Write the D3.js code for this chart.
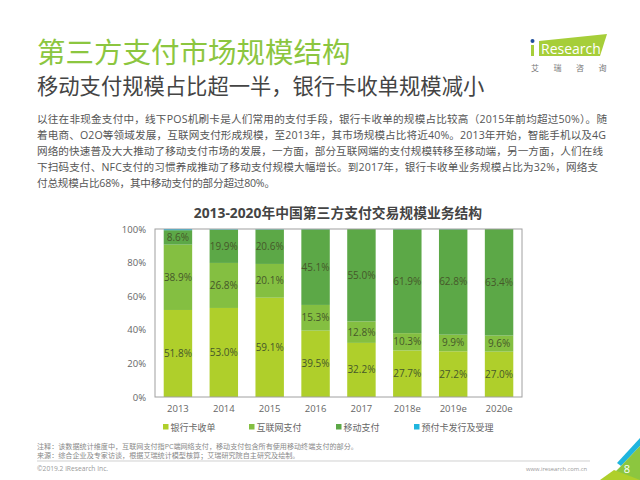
<!DOCTYPE html>
<html>
<head>
<meta charset="utf-8">
<script src="https://cdn.jsdelivr.net/npm/d3@7"></script>
<style>
html, body { margin: 0; padding: 0; background: #fff; }
svg { display: block; }
text { font-family: "Open Sans", "Noto Sans CJK SC", sans-serif; }
</style>
</head>
<body>
<svg id="chart" width="640" height="480"></svg>
<script>
const years = ["2013", "2014", "2015", "2016", "2017", "2018e", "2019e", "2020e"];
const seriesNames = ["银行卡收单", "互联网支付", "移动支付", "预付卡发行及受理"];
const bankCard = [51.8, 53.0, 59.1, 39.5, 32.2, 27.7, 27.2, 27.0];
const internetPay = [38.9, 26.8, 20.1, 15.3, 12.8, 10.3, 9.9, 9.6];
const mobilePay = [8.6, 19.9, 20.6, 45.1, 55.0, 61.9, 62.8, 63.4];
const prepaid = [0.7, 0.3, 0.2, 0.1, 0, 0.1, 0.1, 0];
const yTicks = [0, 20, 40, 60, 80, 100];
const colors = ["#afcf2b", "#84bf41", "#5ca847", "#1fb5de"];

const title = "第三方支付市场规模结构";
const subtitle = "移动支付规模占比超一半，银行卡收单规模减小";
const bodyLines = [
    "以往在非现金支付中，线下POS机刷卡是人们常用的支付手段，银行卡收单的规模占比较高（2015年前均超过50%）。随",
    "着电商、O2O等领域发展，互联网支付形成规模，至2013年，其市场规模占比将近40%。2013年开始，智能手机以及4G",
    "网络的快速普及大大推动了移动支付市场的发展，一方面，部分互联网端的支付规模转移至移动端，另一方面，人们在线",
    "下扫码支付、NFC支付的习惯养成推动了移动支付规模大幅增长。到2017年，银行卡收单业务规模占比为32%，网络支",
    "付总规模占比68%，其中移动支付的部分超过80%。"
];
const bodyWidths = [570, 569, 566, 561, 238];
const chartTitle = "2013-2020年中国第三方支付交易规模业务结构";
const notes = [
    "注释：该数据统计维度中，互联网支付指PC端网络支付，移动支付包含所有使用移动终端支付的部分。",
    "来源：综合企业及专家访谈，根据艾瑞统计模型核算；艾瑞研究院自主研究及绘制。"
];

const svg = d3.select("#chart");

// header
svg.append("text").attr("x", 37).attr("y", 63)
    .attr("font-size", 28.5).attr("fill", "#8cc63f").text(title);
svg.append("text").attr("x", 37).attr("y", 94)
    .attr("font-size", 21.3).attr("fill", "#444").text(subtitle);
svg.selectAll(".body-line").data(bodyLines).join("text")
    .attr("class", "body-line")
    .attr("x", 37)
    .attr("y", (d, i) => 123 + i * 16.1)
    .attr("font-size", 10.6)
    .attr("fill", "#555")
    .attr("textLength", (d, i) => bodyWidths[i])
    .attr("lengthAdjust", "spacing")
    .text(d => d);

// logo
svg.append("polygon").attr("points", "539,41 607,34 600,56 539,56").attr("fill", "#a6ce39");
svg.append("circle").attr("cx", 532.5).attr("cy", 41).attr("r", 2).attr("fill", "#1f4e9c");
svg.append("rect").attr("x", 531).attr("y", 45).attr("width", 3).attr("height", 11).attr("fill", "#a6ce39");
svg.append("text").attr("x", 541).attr("y", 54).attr("font-size", 14).attr("fill", "#fff").text("Research");
svg.selectAll(".logo-cn").data(["艾", "瑞", "咨", "询"]).join("text")
    .attr("class", "logo-cn")
    .attr("x", (d, i) => 531 + i * 22.5)
    .attr("y", 71)
    .attr("font-size", 8)
    .attr("fill", "#777")
    .text(d => d);

// chart
svg.append("text").attr("x", 338).attr("y", 218)
    .attr("text-anchor", "middle").attr("font-size", 13.8).attr("font-weight", 700)
    .attr("fill", "#444").text(chartTitle);

const x = d3.scaleBand().domain(years).range([155, 522]).paddingInner(0.38).paddingOuter(0.19);
const y = d3.scaleLinear().domain([0, 100]).range([397, 229]);

const rows = years.map((year, i) => ({
    year,
    [seriesNames[0]]: bankCard[i],
    [seriesNames[1]]: internetPay[i],
    [seriesNames[2]]: mobilePay[i],
    [seriesNames[3]]: prepaid[i]
}));
const stacked = d3.stack().keys(seriesNames)(rows);

const layers = svg.selectAll(".layer").data(stacked).join("g")
    .attr("class", "layer")
    .attr("fill", (d, i) => colors[i]);
layers.selectAll("rect").data(d => d).join("rect")
    .attr("x", d => x(d.data.year))
    .attr("y", d => y(d[1]))
    .attr("width", x.bandwidth())
    .attr("height", d => y(d[0]) - y(d[1]));

// value labels, prepaid is too thin to carry one
svg.selectAll(".value-layer").data(stacked.slice(0, 3)).join("g")
    .attr("class", "value-layer")
    .selectAll("text").data(d => d).join("text")
    .attr("x", d => x(d.data.year) + x.bandwidth() / 2)
    .attr("y", d => y((d[0] + d[1]) / 2) + 3.5)
    .attr("text-anchor", "middle")
    .attr("font-size", 10)
    .attr("fill", "#46582a")
    .text(d => (d[1] - d[0]).toFixed(1) + "%");

// frame
svg.append("rect").attr("x", 155).attr("y", 229).attr("width", 367).attr("height", 168)
    .attr("fill", "none").attr("stroke", "#a0a0a0");

const yAxis = d3.axisLeft(y).tickValues(yTicks).tickFormat(d => d + "%").tickSize(0).tickPadding(9);
const gy = svg.append("g").attr("transform", "translate(155,0)").call(yAxis);
gy.select(".domain").remove();
gy.selectAll("text").attr("font-size", 9.5).attr("fill", "#666")
    .style("font-family", "'Open Sans', sans-serif");

const xAxis = d3.axisBottom(x).tickSize(0).tickPadding(8);
const gx = svg.append("g").attr("transform", "translate(0,397)").call(xAxis);
gx.select(".domain").remove();
gx.selectAll("text").attr("font-size", 9.5).attr("fill", "#666")
    .style("font-family", "'Open Sans', sans-serif");

// legend
const legendX = [163, 249, 336, 414];
const legend = svg.selectAll(".legend").data(seriesNames).join("g")
    .attr("class", "legend")
    .attr("transform", (d, i) => `translate(${legendX[i]},427)`);
legend.append("rect").attr("x", 0).attr("y", -3).attr("width", 5.5).attr("height", 5.5)
    .attr("fill", (d, i) => colors[i]);
legend.append("text").attr("x", 7.5).attr("y", 3.5)
    .attr("font-size", 9).attr("fill", "#666").text(d => d);

// footer
svg.selectAll(".note").data(notes).join("text")
    .attr("class", "note")
    .attr("x", 37)
    .attr("y", (d, i) => 449 + i * 8.5)
    .attr("font-size", 7.1)
    .attr("fill", "#888")
    .text(d => d);
svg.append("line").attr("x1", 37).attr("x2", 590).attr("y1", 461).attr("y2", 461)
    .attr("stroke", "#bbb").attr("stroke-width", 0.7);
svg.append("text").attr("x", 37).attr("y", 471)
    .attr("font-size", 6.7).attr("fill", "#999").text("©2019.2 iResearch Inc.");
svg.append("text").attr("x", 587).attr("y", 471).attr("text-anchor", "end")
    .attr("font-size", 5.8).attr("fill", "#999").text("www.iresearch.com.cn");

// corner
svg.append("polygon").attr("points", "617,463 640,438 640,446 621,466").attr("fill", "#1fb5de");
svg.append("polygon").attr("points", "621,466 640,446 640,480 607,480").attr("fill", "#8cc63f");
svg.append("polygon").attr("points", "600,480 614,470 640,480").attr("fill", "#afcf2b");
svg.append("text").attr("x", 627).attr("y", 473).attr("text-anchor", "middle")
    .attr("font-size", 11).attr("fill", "#fff").text("8");
</script>
</body>
</html>
